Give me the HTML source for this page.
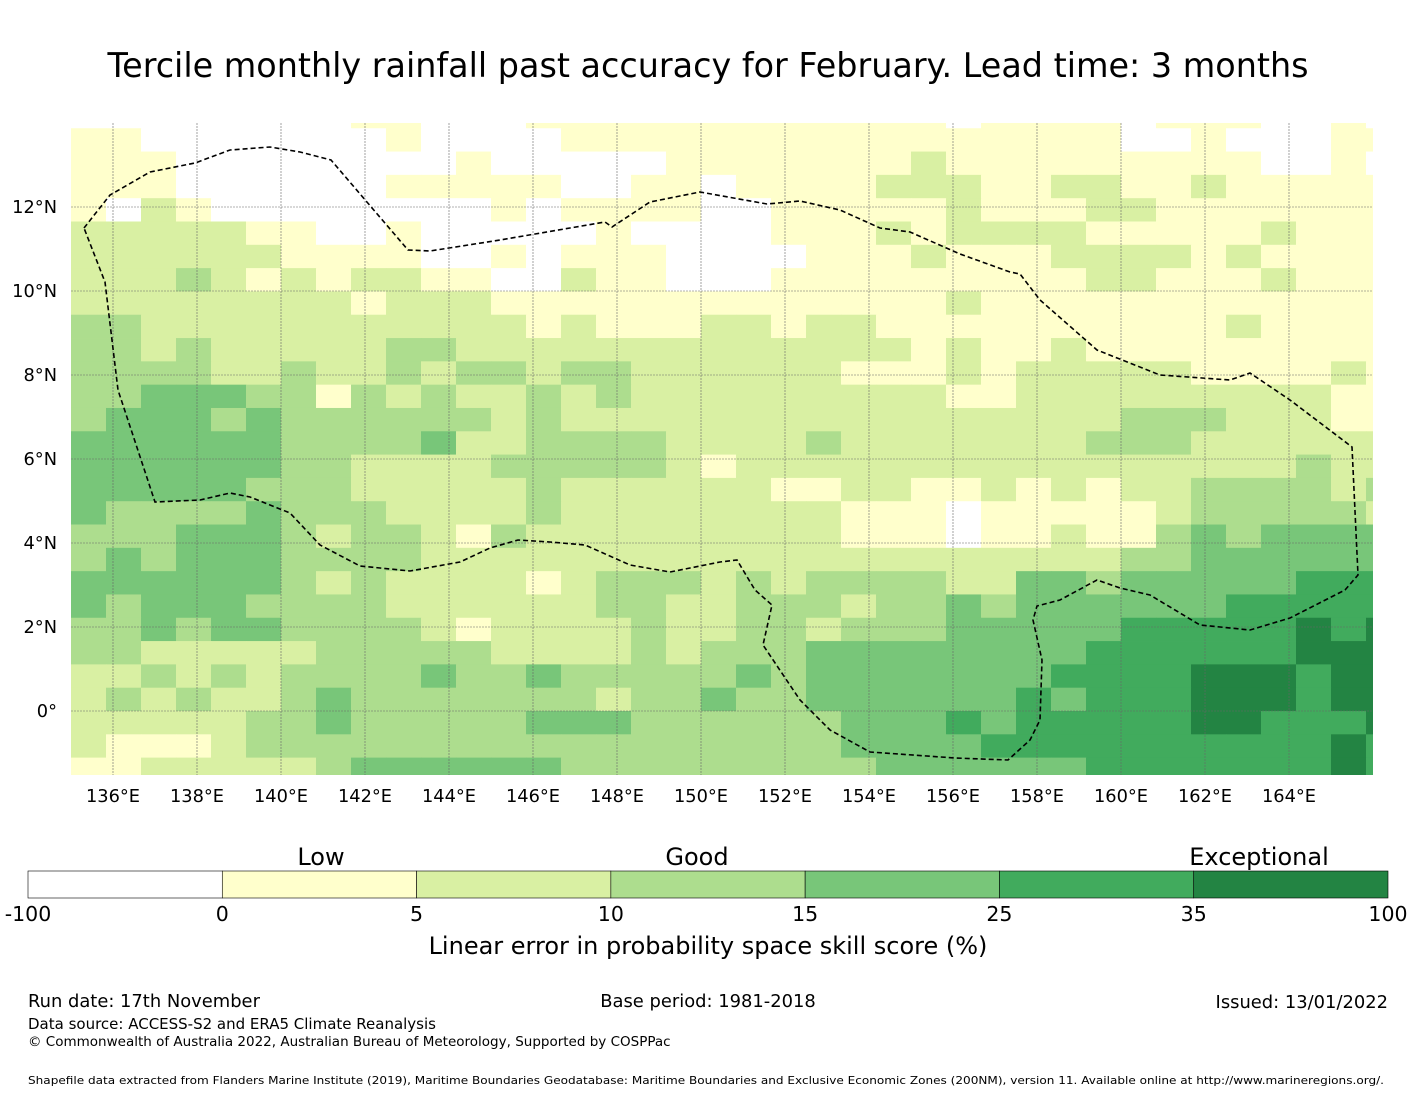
<!DOCTYPE html>
<html><head><meta charset="utf-8"><style>
body{margin:0;background:#fff;}
svg text{font-family:"DejaVu Sans","Liberation Sans",sans-serif;fill:#000;}
</style></head><body>
<svg id="chart" width="1416" height="1095" viewBox="0 0 1416 1095" xmlns="http://www.w3.org/2000/svg">
<rect width="1416" height="1095" fill="#fff"/>
<text x="708" y="77" font-size="33.4" text-anchor="middle">Tercile monthly rainfall past accuracy for February. Lead time: 3 months</text>
<defs><clipPath id="mapclip"><rect x="71" y="123" width="1302" height="652"/></clipPath></defs>
<g id="cells" clip-path="url(#mapclip)"></g>
<g id="grid"></g>
<path id="eez" fill="none" stroke="#000" stroke-width="1.6" stroke-dasharray="5,3"/>
<g id="xlabels"></g>
<g id="ylabels"></g>
<g id="cbar"></g>
<text x="321" y="865" font-size="24" text-anchor="middle">Low</text>
<text x="697" y="865" font-size="24" text-anchor="middle">Good</text>
<text x="1259" y="865" font-size="24" text-anchor="middle">Exceptional</text>
<text x="708" y="954" font-size="24" text-anchor="middle">Linear error in probability space skill score (%)</text>
<text x="28" y="1007" font-size="17.9">Run date: 17th November</text>
<text x="708" y="1007" font-size="17.9" text-anchor="middle">Base period: 1981-2018</text>
<text x="1388" y="1008" font-size="17.9" text-anchor="end">Issued: 13/01/2022</text>
<text x="28" y="1029" font-size="15">Data source: ACCESS-S2 and ERA5 Climate Reanalysis</text>
<text x="28" y="1046" font-size="13.5">© Commonwealth of Australia 2022, Australian Bureau of Meteorology, Supported by COSPPac</text>
<text x="28" y="1084" font-size="11" textLength="1356" lengthAdjust="spacingAndGlyphs">Shapefile data extracted from Flanders Marine Institute (2019), Maritime Boundaries Geodatabase: Maritime Boundaries and Exclusive Economic Zones (200NM), version 11. Available online at http://www.marineregions.org/.</text>
</svg>
<script>
// skill-score class per cell (0:<0, 1:0-5, 2:5-10, 3:10-15, 4:15-25, 5:25-35, 6:35-100), rows north->south
const gridRows = [
"00000000110001111111111110111101110010",
"11000000010000111111111111111100100011",
"11100000000100000111111121111111110010",
"11100000011111001101111222112211211111",
"10210000000010111100111112111221111111",
"22222110010000010000111212222111112111",
"22222211110010111000011121112222121111",
"22232121221100211000111111111221112111",
"22222222122211111111111112111111111111",
"33222222222221211122122111111111121111",
"33232222233222222222222212112111111111",
"33332232232332332222221112122222111121",
"33444331323223232222222221122222222211",
"34443433333323222222222222222233322211",
"44444433334223333222232222222333222222",
"44444433222233333212222222222222222322",
"44444333222223222222112211212122333323",
"43333433322223222222221110111112333332",
"33344432332132222222221110112113434444",
"34344433332222222222222222222233444444",
"44444432322221233323233332244344444555",
"43444333322222233223332334344444455555",
"33434433332122223223323334444455555656",
"33222223333322223233344444444555555666",
"22323233334334333334344444445555666566",
"23232234333333323343344444454555666566",
"22222334333334443333334445455555665556",
"21112333333333333333334444555555555565",
"11222223444444333333333444444555555565"
];
const classValues = [-50, 2.5, 7.5, 12.5, 20, 30, 50];
const binEdges = [-100, 0, 5, 10, 15, 25, 35, 100];
const binColors = ["#ffffff","#ffffcc","#d9f0a3","#addd8e","#78c679","#41ab5d","#238443"];
const lonTicks = [136,138,140,142,144,146,148,150,152,154,156,158,160,162,164];
const latTicks = [0,2,4,6,8,10,12];
const lon0 = 135.0, dLon = 35/42, latTop = 13.875 + 0.555, dLat = 0.555;

const NS = "http://www.w3.org/2000/svg";
const xOf = lon => 113 + (lon - 136) * 42;
const yOf = lat => 711 - lat * 42;
function colorFor(v){ for(let i=0;i<binColors.length;i++){ if(v < binEdges[i+1]) return binColors[i]; } return binColors[binColors.length-1]; }

const cells = document.getElementById('cells');
gridRows.forEach((row, r) => {
  for (let c = 0; c < row.length; c++) {
    const v = classValues[+row[c]];
    const x0 = xOf(lon0 + c * dLon), x1 = xOf(lon0 + (c + 1) * dLon);
    const y0 = yOf(latTop - r * dLat), y1 = yOf(latTop - (r + 1) * dLat);
    const el = document.createElementNS(NS, 'rect');
    el.setAttribute('x', x0); el.setAttribute('y', y0);
    el.setAttribute('width', x1 - x0 + 0.4); el.setAttribute('height', y1 - y0 + 0.4);
    el.setAttribute('fill', colorFor(v));
    
    
    cells.appendChild(el);
  }
});

const grid = document.getElementById('grid');
const xl = document.getElementById('xlabels');
lonTicks.forEach(lon => {
  const x = xOf(lon);
  const ln = document.createElementNS(NS, 'line');
  ln.setAttribute('x1', x); ln.setAttribute('x2', x); ln.setAttribute('y1', 123); ln.setAttribute('y2', 775);
  ln.setAttribute('stroke', '#666'); ln.setAttribute('stroke-width', '0.6'); ln.setAttribute('stroke-dasharray', '2,1');
  
  
  grid.appendChild(ln);
  const t = document.createElementNS(NS, 'text');
  t.setAttribute('x', x); t.setAttribute('y', 802); t.setAttribute('font-size', '17.8'); t.setAttribute('text-anchor', 'middle');
  t.textContent = lon + '°E';
  
  
  xl.appendChild(t);
});
const yl = document.getElementById('ylabels');
latTicks.forEach(lat => {
  const y = yOf(lat);
  const ln = document.createElementNS(NS, 'line');
  ln.setAttribute('x1', 71); ln.setAttribute('x2', 1373); ln.setAttribute('y1', y); ln.setAttribute('y2', y);
  ln.setAttribute('stroke', '#666'); ln.setAttribute('stroke-width', '0.6'); ln.setAttribute('stroke-dasharray', '2,1');
  
  
  grid.appendChild(ln);
  const t = document.createElementNS(NS, 'text');
  t.setAttribute('x', 57); t.setAttribute('y', y + 6); t.setAttribute('font-size', '17.8'); t.setAttribute('text-anchor', 'end');
  t.textContent = lat === 0 ? '0°' : lat + '°N';
  
  
  yl.appendChild(t);
});

const eezPts = [[84,228],[110,195],[150,172],[195,163],[230,150],[270,147],[300,152],[331,160],[408,250],[430,251],[500,240],[605,222],[612,227],[650,202],[700,192],[767,204],[800,201],[840,210],[880,228],[910,232],[960,254],[1010,272],[1020,274],[1040,300],[1097,350],[1160,375],[1230,380],[1250,373],[1290,400],[1352,447],[1358,575],[1345,590],[1290,618],[1250,630],[1200,625],[1150,595],[1120,588],[1097,580],[1060,600],[1037,606],[1033,620],[1042,660],[1040,720],[1030,740],[1008,760],[955,758],[870,752],[830,730],[800,700],[763,645],[772,605],[755,590],[737,560],[720,562],[670,572],[630,565],[585,545],[550,542],[518,540],[490,548],[460,562],[410,571],[360,566],[320,545],[290,513],[250,497],[230,493],[200,500],[155,502],[118,390],[105,282],[84,228]];
document.getElementById('eez').setAttribute('d', 'M' + eezPts.map(p => p.join(',')).join(' L'));

const cbar = document.getElementById('cbar');
const cbW = (1388 - 28) / binColors.length;
binColors.forEach((col, i) => {
  const r = document.createElementNS(NS, 'rect');
  r.setAttribute('x', 28 + i * cbW); r.setAttribute('y', 871); r.setAttribute('width', cbW); r.setAttribute('height', 27);
  r.setAttribute('fill', col); r.setAttribute('stroke', '#000'); r.setAttribute('stroke-width', '0.6');
  
  
  cbar.appendChild(r);
});
binEdges.forEach((e, i) => {
  const t = document.createElementNS(NS, 'text');
  t.setAttribute('x', 28 + i * cbW); t.setAttribute('y', 921); t.setAttribute('font-size', '20.5'); t.setAttribute('text-anchor', 'middle');
  t.textContent = e;
  
  
  cbar.appendChild(t);
});
</script>
</body></html>
